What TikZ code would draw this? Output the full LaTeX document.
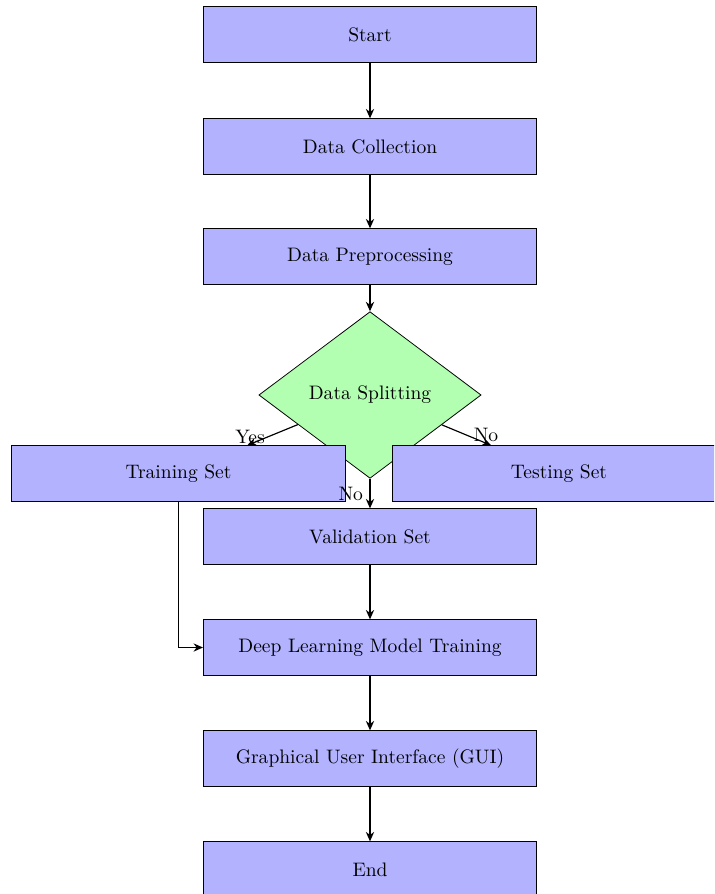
\documentclass[tikz,border=0pt]{standalone}
\usetikzlibrary{shapes.geometric,arrows.meta}

\tikzset{
  stepbox/.style={rectangle, draw=black, fill=blue!30, minimum width=6cm, minimum height=1cm, inner sep=2pt, font=\normalsize},
  decision/.style={diamond, draw=black, fill=green!30, minimum width=4cm, minimum height=3cm, inner sep=0pt},
  flow/.style={draw=black, semithick, -{Stealth[length=1.7mm,width=1.5mm]}},
  edgelabel/.style={inner sep=0pt, font=\normalsize}
}

\begin{document}
\begin{tikzpicture}
  % page frame (content beyond it is cut off)
  \clip (0,0) rectangle (12.852,-16.092);

  % main column
  \node[stepbox] (start) at (6.66,-0.621) {Start};
  \node[stepbox] (collect) at (6.66,-2.637) {Data Collection};
  \node[stepbox] (prep) at (6.66,-4.617) {Data Preprocessing};

  % decision
  \node[decision] (split) at (6.66,-7.11) {Data Splitting};

  % the three data sets
  \node[stepbox] (train) at (3.213,-8.523) {Training Set};
  \node[stepbox] (test) at (10.062,-8.523) {Testing Set};
  \node[stepbox] (valid) at (6.66,-9.657) {Validation Set};

  % remaining steps
  \node[stepbox] (model) at (6.66,-11.655) {Deep Learning Model Training};
  \node[stepbox] (gui) at (6.66,-13.653) {Graphical User Interface (GUI)};
  \node[stepbox] (end) at (6.66,-15.651) {End};

  % connectors
  \draw[flow] (start) -- (collect);
  \draw[flow] (collect) -- (prep);
  \draw[flow] (prep) -- (split);
  \draw[flow] (split) -- (train);
  \draw[flow] (split) -- (test);
  \draw[flow] (split) -- node[midway, left] {No} (valid);
  \draw[flow] (valid) -- (model);
  \draw[flow] (train.south) |- (model.west);
  \draw[flow] (model) -- (gui);
  \draw[flow] (gui) -- (end);

  % branch labels
  \node[edgelabel] (yeslabel) at (4.5,-7.857) {Yes};
  \node[edgelabel] (nolabel) at (8.748,-7.83) {No};
\end{tikzpicture}
\end{document}
